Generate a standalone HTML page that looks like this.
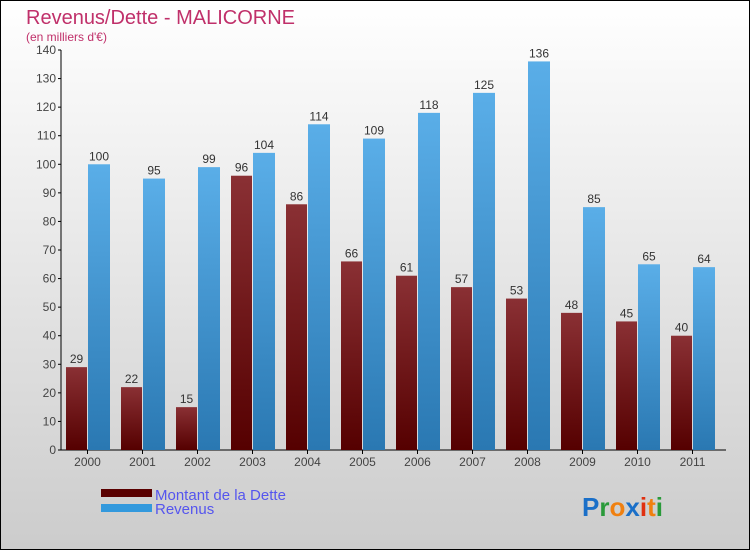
<!DOCTYPE html>
<html><head><meta charset="utf-8"><style>
body{margin:0}
svg{display:block;font-family:"Liberation Sans",sans-serif}
</style></head><body>
<svg width="750" height="550" viewBox="0 0 750 550">
<defs>
<linearGradient id="bg" x1="0" y1="0" x2="0" y2="1"><stop offset="0" stop-color="#ffffff"/><stop offset="1" stop-color="#cccccc"/></linearGradient>
<linearGradient id="gd" x1="0" y1="0" x2="0" y2="1"><stop offset="0" stop-color="#8a3034"/><stop offset="1" stop-color="#550000"/></linearGradient>
<linearGradient id="gr" x1="0" y1="0" x2="0" y2="1"><stop offset="0" stop-color="#5aaee8"/><stop offset="1" stop-color="#2a78b2"/></linearGradient>
</defs>
<rect x="0.5" y="0.5" width="749" height="549" fill="url(#bg)" stroke="#000"/>
<text x="26" y="24" font-size="20" fill="#c0306a">Revenus/Dette - MALICORNE</text>
<text x="26" y="41" font-size="12" fill="#c0306a">(en milliers d'€)</text>
<g id="axes"></g>
<g id="bars"></g>
<g>
<rect x="101" y="489" width="51" height="8" fill="#5a0000"/>
<text x="155" y="500" font-size="15" fill="#5555ee">Montant de la Dette</text>
<rect x="101" y="504" width="51" height="8" fill="#3399dd"/>
<text x="155" y="514" font-size="15" fill="#5555ee">Revenus</text>
</g>
<g font-size="26" font-weight="bold">
<text x="582" y="516"><tspan fill="#1a6fc8">P</tspan><tspan fill="#2a9a3a">r</tspan><tspan fill="#f08010">o</tspan><tspan fill="#1a6fc8">x</tspan><tspan fill="#e03010">i</tspan><tspan fill="#f08010">t</tspan><tspan fill="#2a9a3a">i</tspan></text>
</g>
</svg>
<script>
const years=["2000","2001","2002","2003","2004","2005","2006","2007","2008","2009","2010","2011"];
const dette=[29,22,15,96,86,66,61,57,53,48,45,40];
const revenus=[100,95,99,104,114,109,118,125,136,85,65,64];
const yTicks=[0,10,20,30,40,50,60,70,80,90,100,110,120,130,140];
const NS="http://www.w3.org/2000/svg";
const y0=450,yMax=140,yTop=50;
function y(v){return y0-(v/yMax)*(y0-yTop);}
function xg(i){return 66+55*i;}
function mk(t,a,p){const e=document.createElementNS(NS,t);for(const k in a)e.setAttribute(k,a[k]);p.appendChild(e);return e;}
const ax=document.getElementById('axes'),bars=document.getElementById('bars');
const yl=mk('line',{x1:61,y1:yTop,x2:61,y2:y0,stroke:'#000'},ax);


const xl=mk('line',{x1:61,y1:y0,x2:726,y2:y0,stroke:'#000'},ax);


yTicks.forEach(v=>{
 mk('line',{x1:58,y1:y(v),x2:61,y2:y(v),stroke:'#000'},ax);
 const t=mk('text',{x:56,y:y(v)+4,'text-anchor':'end','font-size':12,fill:'#444'},ax);
 t.textContent=v;
 
 
});
years.forEach((yr,i)=>{
 const x=xg(i);
 mk('line',{x1:x+21.5,y1:y0,x2:x+21.5,y2:y0+4,stroke:'#000'},ax);
 const t=mk('text',{x:x+21.5,y:y0+16,'text-anchor':'middle','font-size':12,fill:'#444'},ax);
 t.textContent=yr;
 
 
 const b1=mk('rect',{x:x,y:y(dette[i]),width:21,height:y0-y(dette[i]),fill:'url(#gd)'},bars);
 
 
 const b2=mk('rect',{x:x+22,y:y(revenus[i]),width:22,height:y0-y(revenus[i]),fill:'url(#gr)'},bars);
 
 
 const l1=mk('text',{x:x+10.5,y:y(dette[i])-4,'text-anchor':'middle','font-size':12,fill:'#333'},bars);
 l1.textContent=dette[i];
 
 
 const l2=mk('text',{x:x+33,y:y(revenus[i])-4,'text-anchor':'middle','font-size':12,fill:'#333'},bars);
 l2.textContent=revenus[i];
 
 
});
</script>
</body></html>
